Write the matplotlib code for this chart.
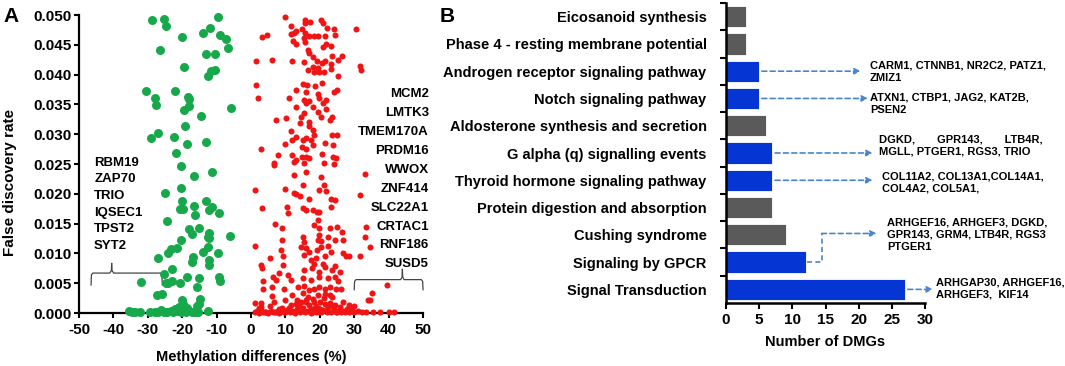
import numpy as np
import matplotlib.pyplot as plt
from matplotlib.ticker import MultipleLocator, FixedLocator

plt.rcParams['font.family'] = ['Liberation Sans', 'DejaVu Sans']
plt.rcParams['font.weight'] = 'bold'
plt.rcParams['axes.unicode_minus'] = False

# ---------------- Panel A data ----------------
hypo_x = [-28.9, -25.2, -24.8, -9.6, -11.8, -13.9, -20.0, -9.1, -7.4, -6.8, -26.5, -13.2, -10.6,
          -19.6, -10.6, -11.6, -12.4, -30.6, -22.1, -27.9, -27.7, -18.2, -18.0, -18.1, -19.4, -5.9,
          -14.4, -19.1, -29.0, -26.9, -22.3, -18.7, -13.1, -21.7, -20.3, -11.2, -16.6, -20.5, -25.0,
          -20.2, -13.2, -19.8, -20.7, -16.5, -11.2, -12.3, -9.3, -16.4, -24.5, -18.1, -15.2, -12.1,
          -17.1, -12.4, -6.1, -20.4, -12.3, -23.3, -24.1, -21.5, -27.0, -16.8, -17.2, -12.4, -14.0,
          -9.6, -12.1, -12.1, -22.9, -25.3, -24.7, -22.9, -24.1, -18.5, -20.7, -15.1, -9.4, -9.0,
          -31.9, -15.6, -27.3, -25.8, -20.1, -19.8, -20.2, -14.9, -15.1, -15.8, -12.4, -35.5, -34.7,
          -33.8, -32.3, -28.0, -27.0, -26.2, -25.3, -24.3, -23.2, -22.1, -21.3, -20.5, -19.0, -18.1,
          -17.2, -16.2, -15.5, -22.8, -29.5, -18.6, -21.0]
hypo_fdr = [0.0492, 0.0493, 0.0482, 0.0497, 0.0478, 0.0470, 0.0463, 0.0466, 0.0459, 0.0445, 0.0441,
            0.0435, 0.0435, 0.0413, 0.0408, 0.0406, 0.0398, 0.0372, 0.0372, 0.0360, 0.0349, 0.0363,
            0.0359, 0.0347, 0.0341, 0.0344, 0.0331, 0.0313, 0.0294, 0.0302, 0.0295, 0.0284, 0.0287,
            0.0268, 0.0247, 0.0237, 0.0230, 0.0209, 0.0201, 0.0188, 0.0188, 0.0175, 0.0175, 0.0179,
            0.0178, 0.0172, 0.0168, 0.0165, 0.0155, 0.0141, 0.0142, 0.0134, 0.0132, 0.0127, 0.0129,
            0.0123, 0.0126, 0.0108, 0.0101, 0.0109, 0.0092, 0.0094, 0.0086, 0.0111, 0.0102, 0.0100,
            0.0089, 0.0081, 0.0074, 0.0066, 0.0050, 0.0053, 0.0051, 0.0060, 0.0051, 0.0058, 0.0060,
            0.0053, 0.0052, 0.0043, 0.0030, 0.0032, 0.0022, 0.0015, 0.0008, 0.0023, 0.0015, 0.0011,
            0.0003, 0.0004, 0.0001, 0.0002, 0.0001, 0.0001, 0.0002, 0.0005, 0.0001, 0.0001, 0.0003,
            0.0006, 0.0003, 0.0001, 0.0001, 0.0003, 0.0001, 0.0002, 0.0001, 0.0001, 0.0001, 0.0008,
            0.0010]

hyper_x = [9.9, 15.8, 15.6, 17.2, 20.2, 20.9, 11.7, 22.2, 24.2, 30.6, 13.0, 11.5, 12.6, 14.8, 15.8,
           4.5, 3.2, 24.5, 16.9, 18.2, 19.5, 21.4, 15.3, 15.8, 12.3, 13.0, 21.9, 23.3, 16.5, 16.9,
           17.9, 20.9, 23.6, 26.5, 25.3, 21.4, 20.6, 19.1, 1.4, 6.2, 12.0, 15.3, 17.9, 16.5, 19.4,
           23.3, 23.3, 31.7, 32.1, 25.3, 21.2, 19.9, 18.4, 1.4, 15.2, 16.3, 18.7, 20.7, 13.0, 16.0,
           19.4, 25.0, 24.0, 2.0, 11.0, 15.5, 16.0, 16.9, 13.0, 17.9, 21.9, 19.9, 20.9, 21.9, 19.4,
           20.4, 14.5, 15.5, 7.3, 10.3, 14.2, 16.9, 23.6, 23.1, 11.5, 13.0, 16.9, 17.9, 18.4, 16.0,
           15.0, 17.4, 11.8, 23.6, 25.1, 10.0, 14.8, 16.0, 17.9, 21.6, 23.8, 3.0, 7.9, 12.0, 13.0,
           14.8, 16.0, 16.9, 20.5, 23.8, 6.6, 12.5, 15.5, 24.8,
           6.6, 21.1, 24.0, 33.0, 12.5, 16.0, 20.4, 15.0, 10.0, 19.7, 21.7, 1.2, 12.5, 13.2, 14.2,
           16.9, 23.3, 24.3, 31.6, 21.1, 3.3, 10.5, 15.0, 16.0, 17.9, 19.1, 19.9, 10.8, 23.3, 6.9,
           9.1, 19.4, 18.4, 19.9, 23.1, 25.0, 26.4, 33.5, 33.2, 9.1, 15.0, 15.5, 19.7, 19.4, 20.4,
           22.4, 24.3, 26.8, 1.2, 34.5, 8.6, 14.5, 16.0, 16.9, 20.4, 19.1, 22.4, 26.6, 28.6, 31.7,
           5.6, 9.3, 15.3, 17.4, 18.9, 21.4, 23.3, 27.6, 2.9, 9.3, 18.4, 20.9, 3.2, 8.1, 10.8, 15.5,
           17.7, 19.9, 21.4, 23.6, 24.3, 25.8, 6.3, 7.3, 3.6, 11.5, 15.0, 17.4, 19.7, 22.4, 24.3,
           25.3, 39.6, 3.6, 6.1, 9.6, 13.8, 15.5, 16.9, 18.4, 19.9, 21.4, 23.1, 24.6, 26.3, 12.0,
           15.0, 16.5, 19.4, 21.4, 23.6, 35.2, 33.9, 34.7, 2.9, 1.2, 6.6, 10.0, 13.5, 16.0, 17.9,
           20.1, 22.9, 26.8, 28.6, 29.8,
           1.2, 1.8, 2.4, 2.9, 3.6, 4.3, 5.0, 5.8, 6.5, 7.3, 8.0, 8.8, 9.6, 10.4, 11.2, 12.0, 12.8,
           13.5, 14.3, 15.0, 15.8, 16.5, 17.3, 18.0, 18.8, 19.5, 20.3, 21.0, 21.8, 22.5, 23.3, 24.0,
           24.8, 25.5, 26.3, 27.0, 27.8, 28.5, 29.3, 30.0, 31.0, 32.2, 33.5, 35.4, 37.5, 40.0, 41.5,
           3.0, 5.5, 9.0, 11.5, 14.0, 16.8, 19.0, 21.5, 23.8, 26.0, 17.5, 20.0, 8.0, 2.2, 13.0, 16.0,
           24.5, 4.0, 7.0, 10.0, 12.5, 15.4, 17.9, 19.9, 22.2, 25.1, 27.4, 29.0, 18.4, 21.2, 14.6,
           23.0, 6.0, 11.0]
hyper_fdr = [0.0496, 0.0492, 0.0487, 0.0488, 0.0492, 0.0487, 0.0482, 0.0479, 0.0477, 0.0477, 0.0474,
             0.0468, 0.0469, 0.0477, 0.0469, 0.0466, 0.0463, 0.0467, 0.0464, 0.0465, 0.0465, 0.0464,
             0.0461, 0.0455, 0.0457, 0.0452, 0.0452, 0.0448, 0.0441, 0.0436, 0.0430, 0.0447, 0.0431,
             0.0432, 0.0424, 0.0422, 0.0419, 0.0422, 0.0422, 0.0424, 0.0423, 0.0421, 0.0413, 0.0408,
             0.0411, 0.0417, 0.0409, 0.0414, 0.0408, 0.0397, 0.0404, 0.0405, 0.0405, 0.0383, 0.0384,
             0.0383, 0.0381, 0.0386, 0.0375, 0.0371, 0.0367, 0.0375, 0.0371, 0.0360, 0.0360, 0.0357,
             0.0352, 0.0355, 0.0346, 0.0346, 0.0357, 0.0360, 0.0352, 0.0342, 0.0338, 0.0329, 0.0329,
             0.0335, 0.0324, 0.0327, 0.0318, 0.0321, 0.0329, 0.0324, 0.0306, 0.0296, 0.0313, 0.0307,
             0.0299, 0.0293, 0.0290, 0.0291, 0.0290, 0.0299, 0.0299, 0.0284, 0.0279, 0.0276, 0.0282,
             0.0285, 0.0282, 0.0276, 0.0265, 0.0265, 0.0257, 0.0262, 0.0262, 0.0260, 0.0267, 0.0262,
             0.0251, 0.0254, 0.0252, 0.0260,
             0.0248, 0.0252, 0.0250, 0.0233, 0.0232, 0.0237, 0.0229, 0.0215, 0.0208, 0.0206, 0.0205,
             0.0206, 0.0201, 0.0199, 0.0196, 0.0191, 0.0192, 0.0190, 0.0198, 0.0215, 0.0177, 0.0178,
             0.0176, 0.0173, 0.0172, 0.0170, 0.0170, 0.0168, 0.0178, 0.0150, 0.0142, 0.0156, 0.0148,
             0.0142, 0.0142, 0.0145, 0.0136, 0.0144, 0.0128, 0.0122, 0.0127, 0.0119, 0.0131, 0.0122,
             0.0120, 0.0128, 0.0122, 0.0122, 0.0112, 0.0111, 0.0106, 0.0111, 0.0109, 0.0103, 0.0110,
             0.0106, 0.0112, 0.0100, 0.0095, 0.0096, 0.0093, 0.0095, 0.0097, 0.0089, 0.0092, 0.0095,
             0.0103, 0.0095, 0.0081, 0.0081, 0.0083, 0.0082, 0.0075, 0.0067, 0.0064, 0.0072, 0.0075,
             0.0069, 0.0078, 0.0072, 0.0079, 0.0069, 0.0060, 0.0056, 0.0054, 0.0055, 0.0058, 0.0055,
             0.0060, 0.0058, 0.0061, 0.0054, 0.0047, 0.0040, 0.0043, 0.0041, 0.0044, 0.0045, 0.0039,
             0.0041, 0.0044, 0.0041, 0.0044, 0.0040, 0.0041, 0.0030, 0.0033, 0.0027, 0.0030, 0.0032,
             0.0027, 0.0034, 0.0022, 0.0022, 0.0017, 0.0017, 0.0019, 0.0022, 0.0022, 0.0019, 0.0023,
             0.0019, 0.0017, 0.0019, 0.0013, 0.0011,
             0.0001, 0.0003, 0.0000, 0.0005, 0.0001, 0.0002, 0.0000, 0.0004, 0.0001, 0.0002, 0.0000,
             0.0003, 0.0001, 0.0005, 0.0001, 0.0003, 0.0000, 0.0006, 0.0002, 0.0008, 0.0001, 0.0004,
             0.0000, 0.0006, 0.0002, 0.0009, 0.0001, 0.0005, 0.0003, 0.0010, 0.0001, 0.0006, 0.0002,
             0.0004, 0.0001, 0.0003, 0.0006, 0.0001, 0.0004, 0.0001, 0.0003, 0.0001, 0.0001, 0.0001,
             0.0001, 0.0001, 0.0001,
             0.0010, 0.0012, 0.0009, 0.0013, 0.0011, 0.0014, 0.0012, 0.0015, 0.0012, 0.0010, 0.0007,
             0.0006, 0.0006, 0.0008, 0.0015, 0.0021, 0.0014, 0.0002, 0.0001, 0.0002, 0.0001, 0.0003,
             0.0001, 0.0002, 0.0001, 0.0002, 0.0001, 0.0007, 0.0018, 0.0026, 0.0018, 0.0030, 0.0028,
             0.0009]

hypo_genes = ['RBM19', 'ZAP70', 'TRIO', 'IQSEC1', 'TPST2', 'SYT2']
hyper_genes = ['MCM2', 'LMTK3', 'TMEM170A', 'PRDM16', 'WWOX', 'ZNF414', 'SLC22A1', 'CRTAC1',
               'RNF186', 'SUSD5']

# ---------------- Panel B data ----------------
pathways = ['Eicosanoid synthesis', 'Phase 4 - resting membrane potential',
            'Androgen receptor signaling pathway', 'Notch signaling pathway',
            'Aldosterone synthesis and secretion', 'G alpha (q) signalling events',
            'Thyroid hormone signaling pathway', 'Protein digestion and absorption',
            'Cushing syndrome', 'Signaling by GPCR', 'Signal Transduction']
n_dmgs = [3, 3, 5, 5, 6, 7, 7, 7, 9, 12, 27]
highlighted = [False, False, True, True, False, True, True, False, False, True, True]

# gene notes: (row of pathway, text)
note_rows = [2, 3, 5, 6, 9, 10]
note_texts = ['CARM1, CTNNB1, NR2C2, PATZ1,\nZMIZ1',
              'ATXN1, CTBP1, JAG2, KAT2B,\nPSEN2',
              'DGKD,       GPR143,       LTB4R,\nMGLL, PTGER1, RGS3, TRIO',
              'COL11A2, COL13A1,COL14A1,\nCOL4A2, COL5A1,',
              'ARHGEF16, ARHGEF3, DGKD,\nGPR143, GRM4, LTB4R, RGS3\nPTGER1',
              'ARHGAP30, ARHGEF16,\nARHGEF3,  KIF14']

GREEN = '#16a84a'
RED = '#f01414'
BLUE = '#0535d2'
GRAY = '#5a5a5a'
ARROW = '#4a84cc'

fig = plt.figure(figsize=(10.65, 3.66), dpi=100)

# ~~~~~~~~~~~~~~~~~~~~~~~~~~~~ Panel A ~~~~~~~~~~~~~~~~~~~~~~~~~~~~
ax1 = fig.add_axes([0.0742, 0.1448, 0.3230, 0.8142])
ax1.scatter(hypo_x, hypo_fdr, s=42, color=GREEN, linewidths=0, zorder=3, clip_on=False)
ax1.scatter(hyper_x, hyper_fdr, s=19, color=RED, linewidths=0, zorder=3, clip_on=False)
ax1.set_xlim(-50, 50)
ax1.set_ylim(0, 0.05)
ax1.xaxis.set_major_locator(MultipleLocator(10))
ax1.yaxis.set_major_locator(MultipleLocator(0.005))
ax1.yaxis.set_major_formatter(plt.FormatStrFormatter('%.3f'))
for s in ['top', 'right']:
    ax1.spines[s].set_visible(False)
for s in ['left', 'bottom']:
    ax1.spines[s].set_linewidth(1.6)
ax1.tick_params(axis='both', direction='out', length=3.5, width=1.5, labelsize=11, pad=2)
ax1.tick_params(axis='x', pad=4)
for lab in ax1.get_xticklabels() + ax1.get_yticklabels():
    lab.set_fontweight('bold')
ax1.set_xlabel('Methylation differences (%)', fontsize=10.5, fontweight='bold', labelpad=9)
fig.text(0.009, 0.50, 'False discovery rate', rotation=90, fontsize=11, fontweight='bold',
         ha='center', va='center')

# gene lists
for i, g in enumerate(hypo_genes):
    ax1.text(-45.6, 0.0252 - i * 0.00279, g, fontsize=9.5, fontweight='bold', va='center', ha='left')
for i, g in enumerate(hyper_genes):
    ax1.text(51.7, 0.0367 - i * 0.00317, g, fontsize=9.5, fontweight='bold', va='center', ha='right',
             clip_on=False)

# braces
brace_kw = dict(color='#444444', lw=0.9, clip_on=False, zorder=2)
ax1.plot([-46.5, -46.4, -46.0, -41.1, -40.6, -40.5], [0.0047, 0.0064, 0.0067, 0.0067, 0.0071, 0.0083], **brace_kw)
ax1.plot([-40.5, -40.4, -39.9, -26.3, -25.9, -25.8], [0.0083, 0.0071, 0.0067, 0.0067, 0.0064, 0.0047], **brace_kw)
ax1.plot([30.0, 30.1, 30.5, 43.5, 43.9, 44.0], [0.0039, 0.0053, 0.0056, 0.0056, 0.0060, 0.0073], **brace_kw)
ax1.plot([44.0, 44.1, 44.5, 49.5, 49.9, 50.0], [0.0073, 0.0060, 0.0056, 0.0056, 0.0053, 0.0039], **brace_kw)

fig.text(0.003, 0.955, 'A', fontsize=15, fontweight='bold', ha='left', va='center')

# ~~~~~~~~~~~~~~~~~~~~~~~~~~~~ Panel B ~~~~~~~~~~~~~~~~~~~~~~~~~~~~
ax2 = fig.add_axes([0.6817, 0.1721, 0.1869, 0.8197])
rows = np.arange(len(pathways))
colors = [BLUE if h else GRAY for h in highlighted]
ax2.barh(rows, n_dmgs, height=0.78, color=colors, edgecolor='white', linewidth=0.6, zorder=2)
ax2.set_xlim(0, 30)
ax2.set_ylim(len(pathways) - 0.5, -0.5)
ax2.xaxis.set_major_locator(MultipleLocator(5))
ax2.set_yticks(rows)
ax2.set_yticklabels(pathways, fontsize=10.5, fontweight='bold')
ax2.yaxis.set_minor_locator(FixedLocator(np.arange(-0.5, len(pathways) - 0.5, 1)))
ax2.tick_params(axis='y', which='major', length=0, pad=14)
ax2.tick_params(axis='y', which='minor', length=4, width=1.5, direction='out')
ax2.tick_params(axis='x', length=4, width=1.5, direction='out', labelsize=11, pad=3)
for lab in ax2.get_xticklabels():
    lab.set_fontweight('bold')
for s in ['top', 'right']:
    ax2.spines[s].set_visible(False)
for s in ['left', 'bottom']:
    ax2.spines[s].set_linewidth(1.8)
ax2.set_xlabel('Number of DMGs', fontsize=10.5, fontweight='bold', labelpad=6)

arrow_kw = dict(arrowstyle='-|>', color=ARROW, lw=1.2, linestyle=(0, (3, 2)),
                mutation_scale=9, shrinkA=0, shrinkB=0)
note_ends = [20.3, 21.4, 22.1, 22.1, 22.7, 31.2]
note_x = [21.7, 21.7, 23.1, 23.5, 24.3, 31.6]
note_dy = [0.02, 0.2, -0.28, 0.07, 0.08, -0.05]
for r, txt, xe, xt, dy in zip(note_rows, note_texts, note_ends, note_x, note_dy):
    if r == 9:
        # elbow connector from the GPCR bar up to the Cushing row
        ax2.plot([n_dmgs[r] + 0.2, 14.4, 14.4], [r, r, r - 1.05], color=ARROW, lw=1.2,
                 linestyle=(0, (3, 2)), clip_on=False)
        ax2.annotate('', xy=(xe, r - 1.05), xytext=(14.4, r - 1.05), arrowprops=arrow_kw,
                     annotation_clip=False)
        ax2.text(xt, r - 1.0, txt, fontsize=8, fontweight='bold', va='center', ha='left',
                 linespacing=1.25, clip_on=False)
        continue
    ax2.annotate('', xy=(xe, r), xytext=(n_dmgs[r] + 0.4, r), arrowprops=arrow_kw,
                 annotation_clip=False)
    ax2.text(xt, r + dy, txt, fontsize=8, fontweight='bold', va='center', ha='left',
             linespacing=1.25, clip_on=False)

fig.text(0.413, 0.955, 'B', fontsize=15, fontweight='bold', ha='left', va='center')

fig.savefig('out.png', dpi=100)
